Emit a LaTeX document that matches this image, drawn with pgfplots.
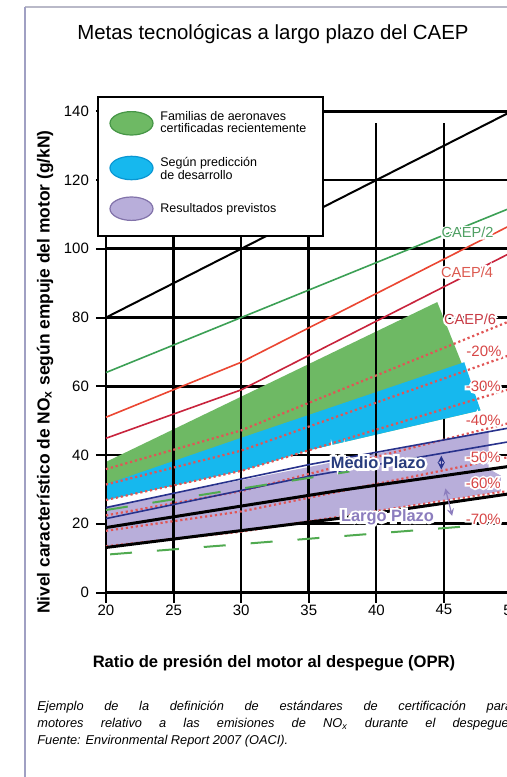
\documentclass[border=0pt]{standalone}
\usepackage{pgfplots}
\pgfplotsset{compat=1.18}
\usepackage{fontspec}
\setmainfont{Liberation Sans}
\definecolor{gfill}{RGB}{110,185,100}
\definecolor{gline}{RGB}{70,150,70}
\definecolor{bfill}{RGB}{22,184,238}
\definecolor{bline}{RGB}{10,150,210}
\definecolor{pfill}{RGB}{184,174,218}
\definecolor{pline}{RGB}{130,115,170}
\definecolor{caep2}{RGB}{60,160,85}
\definecolor{caep4}{RGB}{235,70,50}
\definecolor{caep6}{RGB}{200,35,60}
\definecolor{dotred}{RGB}{225,85,85}
\definecolor{navy}{RGB}{40,50,140}
\definecolor{pctred}{RGB}{215,70,70}
\definecolor{largo}{RGB}{140,125,190}
\definecolor{medio}{RGB}{40,60,125}
\definecolor{gdash}{RGB}{80,170,80}
\definecolor{frameL}{RGB}{160,160,195}
\definecolor{frameT}{RGB}{185,185,200}
\definecolor{lab2}{RGB}{80,160,100}
\definecolor{lab4}{RGB}{220,90,80}
\definecolor{lab6}{RGB}{200,60,70}

% text with a white halo: stroked white copy under the filled coloured text
\newcommand{\halotext}[2]{\rlap{\special{pdf:literal direct q 2 Tr 1 1 1 RG #1 w}#2\special{pdf:literal direct Q}}#2}
\newcommand{\glow}[5][1.8]{%
  \node[text=#3,font=#4,inner sep=0pt] at (#2) {\halotext{#1}{#5}};}

\begin{document}
\begin{tikzpicture}[x=0.5pt,y=-0.5pt]
\path[use as bounding box] (0,0) rectangle (507,777);
\clip (0,0) rectangle (507,777);
\fill[white] (0,0) rectangle (507,777);
\coordinate (O) at (106,592.5);
\begin{axis}[
  at={(O)}, anchor=south west,
  scale only axis, width=202.8pt, height=240.6pt,
  xmin=20, xmax=50, ymin=0, ymax=140,
  axis line style={draw=none},
  xtick={20,25,30,35,40,45,50}, ytick={0,20,40,60,80,100,120,140},
  xtick pos=left, ytick pos=left,
  tick align=outside, major tick length=5pt,
  every tick/.style={black, line width=1pt},
  ticklabel style={font=\fontsize{7.5}{9}\selectfont},
  xticklabel style={yshift=2.5pt},
  /pgf/number format/assume math mode=true,
  clip=false,
  title={Metas tecnológicas a largo plazo del CAEP},
  title style={at={(rel axis cs:0.4117,1.1646)}, anchor=center, yshift=-7pt, font=\fontsize{10.2}{12}\selectfont, inner sep=0pt},
  xlabel={Ratio de presión del motor al despegue (OPR)},
  xlabel style={at={(rel axis cs:0.4142,-0.1465)}, anchor=center, font=\bfseries\fontsize{8.3}{10}\selectfont, inner sep=0pt},
  ylabel={Nivel característico de NO\textsubscript{x} según empuje del motor (g/kN)},
  ylabel style={at={(rel axis cs:-0.1504,0.4581)}, anchor=center, font=\bfseries\fontsize{8.7}{10}\selectfont, inner sep=0pt},
]
% grid lines under the areas
\draw[line width=1.4pt] (axis cs:20,140) -- (axis cs:50,140);
\draw[line width=0.8pt] (axis cs:20,120) -- (axis cs:50,120);
\draw[line width=1.4pt] (axis cs:20,100) -- (axis cs:50,100);
\draw[line width=1.4pt] (axis cs:20,80) -- (axis cs:50,80);
\draw[line width=1.4pt] (axis cs:20,60) -- (axis cs:50,60);
\draw[line width=1.4pt] (axis cs:20,40) -- (axis cs:50,40);
\draw[line width=1.4pt] (axis cs:20,20) -- (axis cs:50,20);
\draw[line width=1.4pt] (axis cs:45,0) -- (axis cs:45,136.5);
% areas
\addplot[fill=gfill, draw=none] coordinates {(20,26.9) (20,38) (44.5,84.5) (47.7,53) (35,41.4) (30,35.4)} -- cycle;
\addplot[fill=bfill, draw=none] coordinates {(20,26.9) (20,31.5) (30,45) (46.5,67) (47.7,53) (35,41.4) (30,35.4)} -- cycle;
\addplot[fill=pfill, draw=none] coordinates {(20,13.4) (20,25) (35,36.5) (48.3,47) (48.3,36) (49.2,34) (49.2,29.4) (30,17.7)} -- cycle;
% vertical grid lines on top
\draw[line width=1.4pt] (axis cs:20,0) -- (axis cs:20,140);
\draw[line width=1.4pt] (axis cs:25,0) -- (axis cs:25,136.5);
\draw[line width=1pt] (axis cs:30,0) -- (axis cs:30,136.5);
\draw[line width=1.4pt] (axis cs:35,0) -- (axis cs:35,136.5);
\draw[line width=1pt] (axis cs:40,0) -- (axis cs:40,136.5);
\draw[line width=1.4pt] (axis cs:20,0) -- (axis cs:50,0);
% standards
\addplot[black, line width=1pt] coordinates {(20,80) (50,140)};
\addplot[caep2, line width=0.8pt] coordinates {(20,64) (50,112)};
\addplot[caep4, line width=0.8pt] coordinates {(20,51) (30,67) (50,107)};
\addplot[caep6, line width=0.8pt] coordinates {(20,44.88) (30,58.96) (50,98.96)};
% percentage reductions
\addplot[dotred, line width=1.1pt, dash pattern=on 1.1pt off 1.4pt] coordinates {(20,35.90) (30,47.17) (50,79.17)};
\addplot[dotred, line width=1.1pt, dash pattern=on 1.1pt off 1.4pt] coordinates {(20,31.42) (30,41.27) (50,69.27)};
\addplot[dotred, line width=1.1pt, dash pattern=on 1.1pt off 1.4pt] coordinates {(20,26.93) (30,35.38) (50,59.38)};
\addplot[dotred, line width=1.1pt, dash pattern=on 1.1pt off 1.4pt] coordinates {(20,22.44) (30,29.48) (50,49.48)};
\addplot[dotred, line width=1.1pt, dash pattern=on 1.1pt off 1.4pt] coordinates {(20,17.95) (30,23.58) (50,39.58)};
\addplot[dotred, line width=1.1pt, dash pattern=on 1.1pt off 1.4pt] coordinates {(20,13.46) (30,17.69) (50,29.69)};
% mid / long term
\addplot[navy, line width=0.8pt] coordinates {(20,24.7) (35,37.2) (50,48)};
\addplot[navy, line width=0.8pt] coordinates {(20,21.5) (35,33.8) (50,44)};
\addplot[black, line width=1.5pt] coordinates {(20,18.9) (37.3,29.7) (50,36.8)};
\addplot[black, line width=1.5pt] coordinates {(20,13.1) (37.3,21.6) (50,28.8)};
\addplot[gdash, line width=1pt, dash pattern=on 11pt off 12.5pt] coordinates {(20,24) (38,35.2)};
\addplot[gdash, line width=1pt, dash pattern=on 11pt off 12.5pt] coordinates {(20.3,11.1) (46.5,19.2)};
\draw[navy, line width=0.6pt, <->, >=stealth] (axis cs:44.8,35.8) -- (axis cs:44.8,39.8);
\draw[largo, line width=0.6pt, <->, >=stealth] (axis cs:45.1,30.3) -- (axis cs:45.6,22.3);
\end{axis}
% legend
\draw[fill=white, line width=1pt] (98,97) rectangle (323,236);
\draw[fill=gfill, draw=gline, line width=0.6pt] (131.5,123.3) ellipse [x radius=21.5, y radius=11.7];
\draw[fill=bfill, draw=bline, line width=0.6pt] (131.5,168) ellipse [x radius=21.5, y radius=11.7];
\draw[fill=pfill, draw=pline, line width=0.6pt] (131.5,208.7) ellipse [x radius=21.5, y radius=11.7];
\node[anchor=west, align=left, inner sep=0pt, font=\fontsize{6.25}{6.2}\selectfont] at (160,122.2) {Familias de aeronaves\\certificadas recientemente};
\node[anchor=west, align=left, inner sep=0pt, font=\fontsize{6.25}{6.2}\selectfont] at (160,168.4) {Según predicción\\de desarrollo};
\node[anchor=west, align=left, inner sep=0pt, font=\fontsize{6.25}{6.2}\selectfont] at (160,209.3) {Resultados previstos};
% line labels
\glow{467.5,232.5}{lab2}{\fontsize{7.3}{9}\selectfont}{CAEP/2}
\glow{467,272}{lab4}{\fontsize{7.3}{9}\selectfont}{CAEP/4}
\glow{470,319.5}{lab6}{\fontsize{7.3}{9}\selectfont}{CAEP/6}
\glow{484,351.7}{pctred}{\fontsize{7.5}{9}\selectfont}{-20\%}
\glow{483.3,386.7}{pctred}{\fontsize{7.5}{9}\selectfont}{-30\%}
\glow{483.3,420}{pctred}{\fontsize{7.5}{9}\selectfont}{-40\%}
\glow{483.3,457.5}{pctred}{\fontsize{7.5}{9}\selectfont}{-50\%}
\glow{483.3,483}{pctred}{\fontsize{7.5}{9}\selectfont}{-60\%}
\glow{483.3,519}{pctred}{\fontsize{7.5}{9}\selectfont}{-70\%}
\glow[2.4]{378.3,462.5}{medio}{\bfseries\fontsize{8.2}{10}\selectfont}{Medio Plazo}
\glow[2.4]{387.5,517.5}{largo}{\bfseries\fontsize{8.2}{10}\selectfont}{Largo Plazo}
% caption
\node[anchor=base west, inner sep=0pt, font=\itshape\fontsize{6.4}{8.5}\selectfont] at (37,710.5) {\makebox[237.5pt][s]{Ejemplo de la definición de estándares de certificación para}};
\node[anchor=base west, inner sep=0pt, font=\itshape\fontsize{6.4}{8.5}\selectfont] at (37,727.5) {\makebox[237.5pt][s]{motores relativo a las emisiones de NO\textsubscript{x} durante el despegue.}};
\node[anchor=base west, inner sep=0pt, font=\itshape\fontsize{6.4}{8.5}\selectfont] at (37,744.5) {Fuente: Environmental Report 2007 (OACI).};
% frame
\draw[frameT, line width=0.7pt] (25,7) -- (507,7);
\draw[frameL, line width=1pt] (25,7) -- (25,777);
\end{tikzpicture}
\end{document}
